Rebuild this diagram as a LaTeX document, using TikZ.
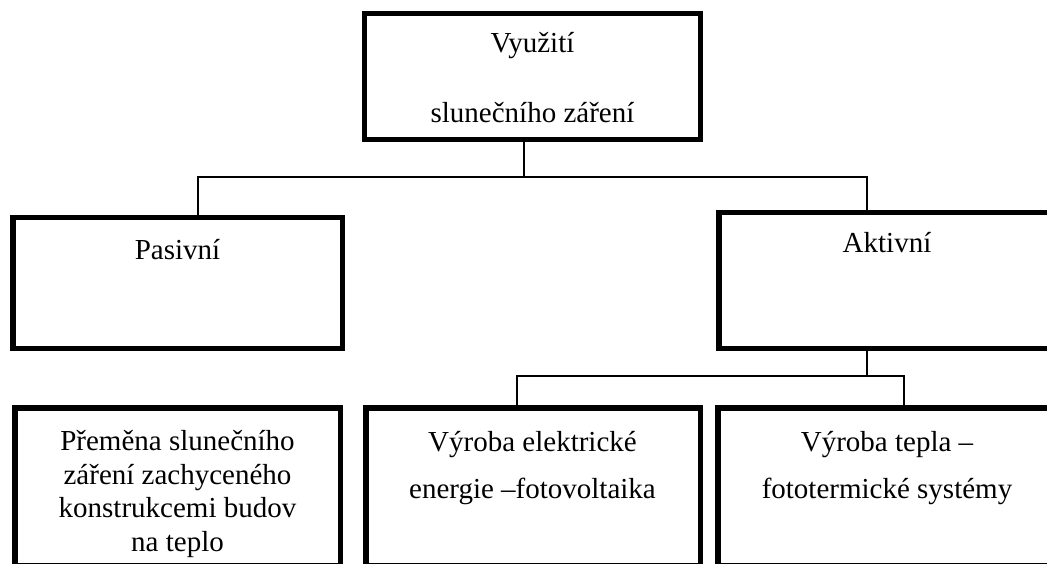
\documentclass[tikz,border=0pt]{standalone}
\usepackage{fontspec}
\setmainfont{Liberation Serif}
\begin{document}
\begin{tikzpicture}[x=1pt,y=-1pt,
  box/.style={draw, line width=5.5pt, rectangle, inner sep=0pt, outer sep=0pt},
  conn/.style={line width=1.6pt},
  lbl/.style={anchor=base, inner sep=0pt, font=\fontsize{29}{34}\selectfont}]
\useasboundingbox (0,0) rectangle (1047,564);
\clip (0,0) rectangle (1047,564);
% boxes
\node[box, minimum width=336pt, minimum height=126pt] (top) at (532.5,76.5) {};
\node[box, minimum width=329.5pt, minimum height=130.5pt] (pas) at (177.5,283) {};
\node[box, minimum width=337pt, minimum height=135.5pt] (akt) at (887.4,280.5) {};
\node[box, minimum width=325.5pt, minimum height=158.25pt] (b1) at (177.5,486.9) {};
\node[box, minimum width=334.5pt, minimum height=158.25pt] (b2) at (533,486.9) {};
\node[box, minimum width=338.5pt, minimum height=158.25pt] (b3) at (887,486.9) {};
% connectors
\coordinate (j0) at (524,177);
\coordinate (jl) at (198,177);
\coordinate (jr) at (867,177);
\draw[conn] (top.south -| j0) -- (j0);
\draw[conn] (pas.north -| jl) -- (jl) -- (jr) -- (akt.north -| jr);
\coordinate (k0) at (867,376);
\coordinate (kl) at (517,376);
\coordinate (kr) at (904,376);
\draw[conn] (akt.south -| k0) -- (k0);
\draw[conn] (b2.north -| kl) -- (kl) -- (kr) -- (b3.north -| kr);
% texts
\node[lbl] (t1) at (532.5,53) {Využití};
\node[lbl] (t2) at (532.5,123) {slunečního záření};
\node[lbl] (tp) at (177.5,259) {Pasivní};
\node[lbl] (ta) at (887,252) {Aktivní};
\node[lbl] (b1a) at (177.5,450.5) {Přeměna slunečního};
\node[lbl] (b1b) at (177.5,484) {záření zachyceného};
\node[lbl] (b1c) at (177.5,517) {konstrukcemi budov};
\node[lbl] (b1d) at (177.5,551) {na teplo};
\node[lbl] (b2a) at (532.5,451.5) {Výroba elektrické};
\node[lbl] (b2b) at (532.5,498.5) {energie –fotovoltaika};
\node[lbl] (b3a) at (887,451) {Výroba tepla –};
\node[lbl] (b3b) at (887,498.5) {fototermické systémy};
\end{tikzpicture}
\end{document}
